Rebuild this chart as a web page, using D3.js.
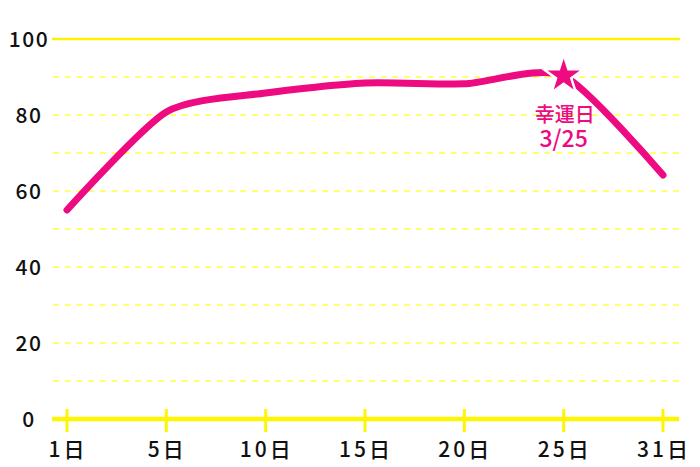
<!DOCTYPE html>
<html><head><meta charset="utf-8">
<script src="https://cdn.jsdelivr.net/npm/d3@7"></script>
<style>html,body{margin:0;padding:0;background:#fff;}svg{display:block;}</style>
</head><body>
<svg id="chart" width="700" height="467"></svg>
<script>
const days = ["1日","5日","10日","15日","20日","25日","31日"];
const values = [55, 80.8, 85.8, 88.4, 88.2, 90.3, 64.2];
const yTicks = [0, 20, 40, 60, 80, 100];
const gridValues = [10, 20, 30, 40, 50, 60, 70, 80, 90];
const luckyIndex = 5;
const luckyTitle = "幸運日";
const luckyDate = "3/25";

const svg = d3.select("#chart");
const font = "'Noto Sans CJK JP', 'Noto Sans', sans-serif";
const x = d3.scalePoint().domain(days).range([67, 663]);
const y = d3.scaleLinear().domain([0, 100]).range([419, 39]);

// dashed grid
svg.append("g").selectAll("line").data(gridValues).join("line")
  .attr("x1", 53).attr("x2", 680)
  .attr("y1", d => y(d)).attr("y2", d => y(d))
  .attr("stroke", "#ffff70").attr("stroke-width", 2)
  .attr("stroke-dasharray", "6,5.7");
// top solid line
svg.append("line").attr("x1", 52).attr("x2", 680)
  .attr("y1", y(100)).attr("y2", y(100))
  .attr("stroke", "#fff200").attr("stroke-width", 2.5);

// y labels
svg.append("g").selectAll("text").data(yTicks).join("text")
  .attr("x", 29).attr("y", d => y(d)).attr("dy", "0.36em")
  .attr("text-anchor", "middle").attr("font-family", font)
  .attr("font-weight", 500).attr("letter-spacing", 1.5)
  .attr("font-size", 21).attr("fill", "#111").text(d => d);

// x axis
svg.append("line").attr("x1", 52).attr("x2", 679)
  .attr("y1", y(0)).attr("y2", y(0))
  .attr("stroke", "#fff500").attr("stroke-width", 4.5);
svg.append("g").selectAll("line").data(days).join("line")
  .attr("x1", d => x(d)).attr("x2", d => x(d))
  .attr("y1", 409).attr("y2", 432)
  .attr("stroke", "#fff500").attr("stroke-width", 3);
svg.append("g").selectAll("text").data(days).join("text")
  .attr("x", d => x(d) + 1).attr("y", 457)
  .attr("text-anchor", "middle").attr("font-family", font)
  .attr("font-weight", 500).attr("letter-spacing", 3)
  .attr("font-size", 21).attr("fill", "#111").text(d => d);

// line
const line = d3.line().x((d, i) => x(days[i])).y(d => y(d)).curve(d3.curveCardinal.tension(0.3));
svg.append("path").datum(values).attr("d", line)
  .attr("fill", "none").attr("stroke", "#ee0a80").attr("stroke-width", 7)
  .attr("stroke-linecap", "round").attr("stroke-linejoin", "round");

// star
const star = d3.symbol().type(d3.symbolStar).size(495);
svg.append("path").attr("d", star())
  .attr("transform", `translate(${x(days[luckyIndex])},${y(values[luckyIndex])})`)
  .attr("fill", "#ee0a80").attr("stroke", "#fff").attr("stroke-width", 2.5)
  .attr("stroke-linejoin", "miter");

svg.append("text").attr("x", x(days[luckyIndex]) + 1).attr("y", 122)
  .attr("text-anchor", "middle").attr("font-family", font).attr("font-weight", 500)
  .attr("font-size", 20).attr("fill", "#ee0a80").text(luckyTitle);
svg.append("text").attr("x", x(days[luckyIndex])).attr("y", 147)
  .attr("text-anchor", "middle").attr("font-family", font).attr("font-weight", 500)
  .attr("font-size", 23).attr("fill", "#ee0a80").text(luckyDate);
</script>
</body></html>
